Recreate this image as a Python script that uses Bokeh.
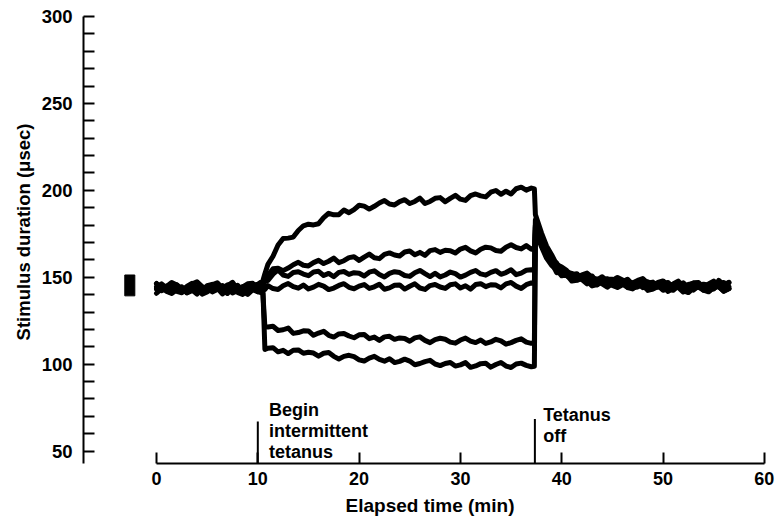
from bokeh.plotting import figure
from bokeh.models import Range1d, FixedTicker, ColumnDataSource
from bokeh.embed import file_html
from bokeh.resources import INLINE
from bokeh.core.properties import value

# ---------------- data ----------------
t_min = [
    0.0, 0.5, 1.0, 1.5, 2.0, 2.5, 3.0, 3.5, 4.0, 4.5, 5.0,
    5.5, 6.0, 6.5, 7.0, 7.5, 8.0, 8.5, 9.0, 9.5, 10.0, 10.5,
    10.7,
    11.0, 11.5, 12.0, 12.5, 13.0, 13.5, 14.0, 14.5, 15.0, 15.5,
    16.0, 16.5, 17.0, 17.5, 18.0, 18.5, 19.0, 19.5, 20.0, 20.5,
    21.0, 21.5, 22.0, 22.5, 23.0, 23.5, 24.0, 24.5, 25.0, 25.5,
    26.0, 26.5, 27.0, 27.5, 28.0, 28.5, 29.0, 29.5, 30.0, 30.5,
    31.0, 31.5, 32.0, 32.5, 33.0, 33.5, 34.0, 34.5, 35.0, 35.5,
    36.0, 36.5, 37.0,
    37.3, 37.4,
    38.0, 38.5, 39.0, 39.5, 40.0, 40.5, 41.0, 41.5, 42.0, 42.5,
    43.0, 43.5, 44.0, 44.5, 45.0, 45.5, 46.0, 46.5, 47.0, 47.5,
    48.0, 48.5, 49.0, 49.5, 50.0, 50.5, 51.0, 51.5, 52.0, 52.5,
    53.0, 53.5, 54.0, 54.5, 55.0, 55.5, 56.0, 56.5,
]

trace_a = [
    146.3, 142.2, 143.5, 145.4, 145.7, 142.4, 144.7, 146.5, 143.3, 142.1, 145.1,
    145.9, 143.9, 142.7, 145.6, 146.2, 142.9, 144.5, 142.0, 145.3, 146.0, 148.0,
    152.0,
    157.4, 162.1, 168.5, 172.3, 172.5, 173.1, 176.9, 179.6, 180.5, 180.1,
    180.8, 184.3, 186.8, 185.9, 186.0, 188.7, 187.1, 188.9, 191.4, 190.9,
    189.2, 190.8, 192.7, 194.1, 192.1, 191.6, 193.5, 194.6, 192.4, 193.6,
    195.5, 192.4, 193.6, 195.4, 195.8, 193.4, 195.4, 197.1, 194.9, 194.2,
    196.9, 197.9, 196.8, 196.2, 198.9, 199.9, 197.7, 199.5, 197.9, 200.9,
    201.8, 200.1, 201.3,
    200.8, 186.0,
    175.5, 168.0, 163.0, 157.3, 155.9, 153.8, 150.8, 149.5, 151.4, 152.4,
    149.9, 148.5, 150.3, 147.4, 148.2, 149.9, 148.4, 145.7, 146.7, 148.2,
    149.2, 146.5, 145.4, 147.0, 147.9, 145.2, 146.1, 147.8, 144.2, 145.1,
    146.8, 147.0, 144.1, 146.1, 147.8, 145.0, 144.1, 146.8,
]

trace_b = [
    140.8, 143.5, 144.9, 144.1, 141.9, 141.1, 144.0, 145.8, 143.4, 142.2, 144.6,
    141.6, 142.9, 145.2, 143.8, 141.0, 142.3, 144.3, 145.6, 142.8, 141.7, 145.5,
    149.0,
    151.3, 154.9, 155.2, 153.8, 155.3, 157.2, 158.6, 156.9, 156.5, 158.4,
    159.7, 157.9, 159.2, 161.0, 158.4, 159.5, 161.3, 161.8, 159.7, 161.6,
    163.3, 161.2, 160.7, 163.2, 164.0, 162.8, 162.2, 164.5, 165.1, 162.9,
    164.3, 162.6, 165.3, 165.9, 164.3, 165.5, 165.3, 163.9, 166.2, 167.2,
    165.2, 164.0, 166.1, 167.3, 166.9, 165.4, 165.0, 167.3, 168.7, 167.1,
    166.3, 168.2, 166.1,
    166.5, 180.0,
    173.0, 166.2, 160.0, 158.2, 153.2, 150.8, 151.6, 152.0, 148.8, 149.3,
    150.7, 146.8, 147.5, 148.9, 148.9, 145.7, 147.4, 148.8, 145.8, 144.6,
    147.0, 147.4, 145.5, 144.3, 146.6, 147.0, 144.0, 145.4, 143.0, 145.8,
    146.5, 144.3, 145.5, 145.2, 143.3, 145.9, 147.0, 144.6,
]

trace_c = [
    146.4, 143.4, 144.7, 147.0, 145.6, 142.8, 144.1, 146.1, 147.4, 144.6, 143.5,
    145.6, 146.8, 143.8, 145.0, 147.1, 143.1, 144.3, 146.2, 146.5, 143.2, 145.5,
    147.5,
    148.2, 151.8, 154.2, 151.3, 150.5, 152.7, 153.2, 151.8, 150.9, 153.0,
    153.4, 151.0, 152.2, 150.3, 152.8, 153.3, 151.6, 152.6, 152.3, 150.7,
    152.9, 153.7, 151.6, 150.2, 152.2, 153.2, 152.7, 151.0, 150.5, 152.6,
    153.9, 152.1, 150.4, 152.3, 150.2, 151.3, 153.0, 152.1, 150.1, 151.2,
    152.8, 153.9, 151.9, 151.2, 152.8, 153.8, 151.7, 152.7, 154.3, 151.5,
    152.4, 154.0, 154.3,
    154.0, 183.0,
    170.5, 163.4, 159.6, 156.0, 154.1, 150.9, 148.9, 150.7, 150.6, 147.2,
    148.3, 145.6, 148.2, 148.6, 146.2, 147.1, 146.5, 144.3, 146.7, 147.5,
    144.8, 143.0, 145.2, 146.1, 145.3, 143.2, 142.5, 144.9, 146.3, 144.1,
    143.1, 145.1, 142.5, 143.6, 145.7, 144.5, 142.1, 143.4,
]

trace_d = [
    143.4, 144.2, 142.2, 141.0, 143.9, 144.5, 141.2, 142.8, 140.3, 143.6, 144.3,
    141.9, 143.3, 143.0, 140.7, 143.7, 144.8, 141.9, 140.1, 142.8, 144.2, 143.4,
    143.0,
    145.2, 143.5, 143.0, 145.1, 146.4, 144.6, 143.7, 145.5, 143.3, 144.3,
    145.9, 144.9, 142.9, 143.8, 145.3, 146.3, 144.2, 143.4, 144.9, 145.8,
    143.6, 144.5, 146.0, 143.1, 143.9, 145.4, 145.6, 143.2, 144.8, 146.2,
    143.8, 143.0, 145.2, 145.8, 144.4, 143.6, 145.7, 146.2, 143.8, 145.1,
    143.2, 145.8, 146.3, 144.6, 145.7, 145.5, 143.9, 146.2, 147.0, 144.9,
    143.6, 145.7, 146.7,
    146.5, 177.0,
    167.5, 161.0, 156.8, 154.3, 150.8, 151.4, 147.8, 148.2, 149.6, 147.9,
    145.0, 145.8, 147.2, 148.1, 145.3, 144.1, 145.6, 146.5, 143.7, 144.5,
    146.1, 142.4, 143.2, 144.7, 144.8, 141.8, 143.7, 145.2, 142.3, 141.2,
    143.8, 144.3, 142.6, 141.6, 144.2, 144.7, 141.9, 143.5,
]

trace_e = [
    143.3, 144.6, 141.8, 140.7, 142.8, 144.0, 141.0, 142.2, 144.3, 140.3, 141.5,
    143.4, 143.7, 140.4, 142.7, 144.5, 141.3, 140.1, 143.1, 143.9, 141.9, 140.7,
    121.5,
    121.4, 121.8, 119.4, 119.8, 120.8, 117.7, 118.2, 119.2, 119.1, 116.6,
    117.9, 118.9, 116.6, 115.6, 117.4, 117.7, 116.2, 115.2, 116.9, 117.1,
    114.7, 115.6, 113.7, 115.7, 116.0, 114.3, 115.1, 114.8, 113.2, 115.1,
    115.7, 113.7, 112.4, 114.1, 114.9, 114.3, 112.7, 112.1, 113.9, 115.0,
    113.3, 112.4, 113.9, 111.9, 112.8, 114.3, 113.4, 111.5, 112.4, 113.7,
    114.6, 112.7, 112.0,
    112.2, 175.0,
    170.0, 165.5, 159.0, 154.2, 152.7, 152.9, 152.2, 148.6, 150.0, 151.1,
    147.9, 146.5, 148.8, 149.1, 147.1, 145.8, 148.0, 148.3, 145.2, 146.5,
    144.0, 146.7, 147.2, 144.9, 145.9, 145.5, 143.4, 145.9, 146.8, 144.2,
    142.6, 144.9, 146.0, 145.4, 143.5, 148.2, 145.5, 147.1,
]

trace_f = [
    144.4, 146.2, 143.8, 142.6, 145.0, 142.0, 143.3, 145.6, 144.2, 141.4, 142.7,
    144.7, 146.0, 143.2, 142.1, 144.2, 145.4, 142.4, 143.6, 145.7, 141.7, 142.9,
    108.5,
    109.2, 109.5, 107.1, 108.0, 106.1, 108.0, 108.2, 106.3, 106.9, 106.4,
    104.6, 106.3, 106.7, 104.5, 103.0, 104.5, 105.1, 104.3, 102.5, 101.8,
    103.5, 104.5, 102.7, 101.7, 103.1, 100.9, 101.6, 102.9, 101.8, 99.7,
    100.4, 101.5, 102.2, 100.1, 99.2, 100.4, 101.0, 98.9, 99.6, 100.9,
    98.2, 99.0, 100.3, 100.5, 98.3, 99.8, 101.0, 98.9, 98.1, 100.1,
    100.6, 99.3, 98.5,
    98.8, 179.0,
    174.0, 163.0, 158.4, 152.6, 153.0, 152.2, 149.1, 149.6, 148.7, 146.2,
    148.4, 149.0, 146.2, 144.3, 146.4, 147.2, 146.3, 144.1, 143.3, 145.6,
    146.9, 144.6, 143.4, 145.3, 142.5, 143.5, 145.4, 144.1, 141.5, 142.6,
    144.3, 145.4, 142.9, 142.0, 143.9, 145.0, 142.5, 143.6,
]

traces = [trace_a, trace_b, trace_c, trace_d, trace_e, trace_f]

y_major_ticks = [50, 100, 150, 200, 250, 300]
y_minor_ticks = [40, 60, 70, 80, 90, 110, 120, 130, 140, 160, 170, 180, 190,
                 210, 220, 230, 240, 260, 270, 280, 290]
x_ticks = [0, 10, 20, 30, 40, 50, 60]

# event markers (tetanus on / off) and their notes
event_x = [10.0, 37.35]
event_top = [67.0, 68.5]
note_text = ["Begin", "intermittent", "tetanus", "Tetanus", "off"]
note_x = [11.1, 11.1, 11.1, 38.17, 38.17]
note_y = [73.9, 61.55, 49.2, 71.0, 58.6]

# small calibration block left of the traces
block_left = [-3.13]
block_right = [-2.14]
block_bottom = [139.3]
block_top = [151.3]

# ---------------- figure ----------------
Y0, Y1 = 42.87, 309.18
p = figure(width=778, height=518, output_backend="svg", toolbar_location=None,
           x_range=Range1d(-7.206, 61.2), y_range=Range1d(Y0, Y1),
           min_border_left=83, min_border_right=2, min_border_top=0,
           min_border_bottom=54)
p.outline_line_color = None
p.grid.visible = False
p.background_fill_color = "white"
p.border_fill_color = "white"

FONT = "Liberation Sans"

yax = p.yaxis[0]
yax.ticker = FixedTicker(ticks=y_major_ticks, minor_ticks=y_minor_ticks)
yax.bounds = (40, 300)
yax.axis_line_width = 2
yax.axis_line_color = "black"
yax.major_tick_in = 11
yax.major_tick_out = 0
yax.minor_tick_in = 11
yax.minor_tick_out = 0
yax.major_tick_line_width = 2
yax.minor_tick_line_width = 2
yax.major_tick_line_color = "black"
yax.minor_tick_line_color = "black"
yax.major_label_text_font = FONT
yax.major_label_text_font_style = "bold"
yax.major_label_text_font_size = "18.5px"
yax.major_label_text_color = "black"
yax.major_label_standoff = 11
yax.axis_label = "Stimulus duration (μsec)"
yax.axis_label_text_font = FONT
yax.axis_label_text_font_size = "18.5px"
yax.axis_label_text_font_style = "bold"
yax.axis_label_text_color = "black"
yax.axis_label_standoff = 5

xax = p.xaxis[0]
xax.ticker = FixedTicker(ticks=x_ticks, minor_ticks=[])
xax.bounds = (0, 60)
xax.axis_line_width = 2
xax.axis_line_color = "black"
xax.major_tick_in = 11
xax.major_tick_out = 0
xax.minor_tick_in = 0
xax.minor_tick_out = 0
xax.major_tick_line_width = 2
xax.major_tick_line_color = "black"
xax.major_label_text_font = FONT
xax.major_label_text_font_style = "bold"
xax.major_label_text_font_size = "18px"
xax.major_label_text_color = "black"
xax.major_label_standoff = 8
xax.axis_label = "Elapsed time (min)"
xax.axis_label_text_font = FONT
xax.axis_label_text_font_size = "19px"
xax.axis_label_text_font_style = "bold"
xax.axis_label_text_color = "black"
xax.axis_label_standoff = 7

for tr in traces:
    p.line(t_min, tr, line_width=5, line_color="black",
           line_join="round", line_cap="round")

p.quad(left=block_left, right=block_right, bottom=block_bottom, top=block_top,
       fill_color="black", line_color="black", line_width=1)

p.segment(x0=event_x, y0=[Y0] * len(event_x), x1=event_x, y1=event_top,
          line_width=2, line_color="black")

notes = ColumnDataSource(dict(x=note_x, y=note_y, text=note_text))
p.text(x="x", y="y", text="text", source=notes, text_font=value(FONT),
       text_font_style="bold", text_font_size=value("18px"),
       text_color="black", text_align="left", text_baseline="alphabetic")

open("out.html", "w").write(file_html(p, INLINE))
